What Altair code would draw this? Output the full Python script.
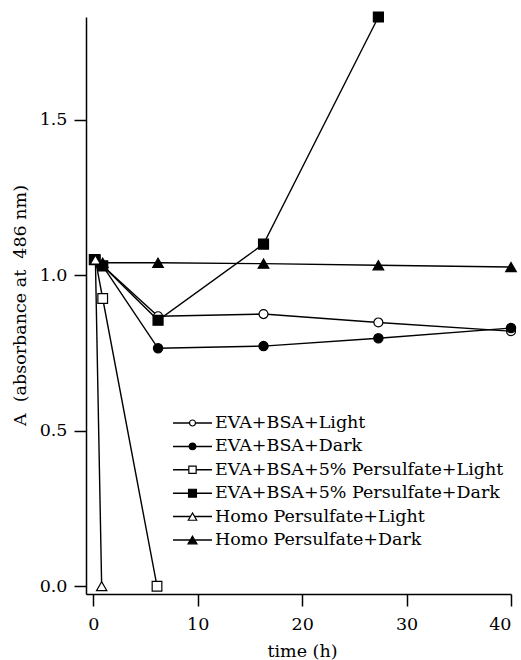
import altair as alt
import pandas as pd

# Series names, in legend order
series = [
    "EVA+BSA+Light",
    "EVA+BSA+Dark",
    "EVA+BSA+5% Persulfate+Light",
    "EVA+BSA+5% Persulfate+Dark",
    "Homo Persulfate+Light",
    "Homo Persulfate+Dark",
]

# Time (h) and absorbance at 486 nm for each series
t_eva_light = [0.9, 6.2, 16.3, 27.3, 40.0]
a_eva_light = [1.03, 0.868, 0.875, 0.848, 0.82]

t_eva_dark = [0.9, 6.2, 16.3, 27.3, 40.0]
a_eva_dark = [1.03, 0.765, 0.772, 0.797, 0.83]

t_ps_light = [0.2, 0.9, 6.1]
a_ps_light = [1.05, 0.925, 0.0]

t_ps_dark = [0.1, 0.9, 6.2, 16.3, 27.3]
a_ps_dark = [1.05, 1.03, 0.855, 1.10, 1.83]

t_homo_light = [0.2, 0.8]
a_homo_light = [1.05, 0.0]

t_homo_dark = [0.9, 6.2, 16.3, 27.3, 40.0]
a_homo_dark = [1.04, 1.04, 1.037, 1.032, 1.026]

times = [t_eva_light, t_eva_dark, t_ps_light, t_ps_dark, t_homo_light, t_homo_dark]
values = [a_eva_light, a_eva_dark, a_ps_light, a_ps_dark, a_homo_light, a_homo_dark]

rows = []
for name, ts, vs in zip(series, times, values):
    for t, v in zip(ts, vs):
        rows.append({"series": name, "t": t, "A": v})
df = pd.DataFrame(rows)
legend_df = pd.DataFrame({"series": series})

# Marker styling per series
shapes = ["circle", "circle", "square", "square", "triangle-up", "triangle-up"]
fills = ["white", "black", "white", "black", "white", "black"]
sizes = [80, 113, 121, 144, 125, 125]
legend_sizes = [36, 80, 72, 100, 90, 100]

FONT = "DejaVu Serif"
FS = 17.5

shape_enc = alt.Shape("series:N", scale=alt.Scale(domain=series, range=shapes), legend=None)
fill_enc = alt.Color("series:N", scale=alt.Scale(domain=series, range=fills), legend=None)

x_enc = alt.X(
    "t:Q",
    scale=alt.Scale(domain=[-0.7, 40], nice=False, zero=False),
    axis=alt.Axis(
        title="time (h)",
        values=[0, 10, 20, 30, 40],
        labelPadding=9,
        titleX=216,
        titleY=57,
        titleBaseline="middle",
    ),
)
y_scale = alt.Scale(domain=[-0.025, 1.83], nice=False, zero=False)
y_axis_enc = alt.Y(
    "A:Q",
    scale=y_scale,
    axis=alt.Axis(
        title="A\u00a0 (absorbance at\u00a0 486 nm)",
        values=[0, 0.5, 1.0, 1.5],
        format=".1f",
        labelPadding=7,
        titleX=-66,
        titleY=288,
        titleBaseline="middle",
    ),
)
y_plain_enc = alt.Y("A:Q", scale=y_scale, axis=None)

lines = alt.Chart(df).mark_line(color="black", strokeWidth=1.4).encode(
    x=x_enc, y=y_axis_enc, detail="series:N"
)

points = alt.Chart(df).mark_point(
    filled=True, stroke="black", strokeWidth=1.2, opacity=1
).encode(
    x=x_enc,
    y=y_plain_enc,
    shape=shape_enc,
    color=fill_enc,
    size=alt.Size("series:O", scale=alt.Scale(domain=series, range=sizes), legend=None),
)

# Legend drawn inside the plot: one row per series
legend_y = alt.Y(
    "series:N",
    scale=alt.Scale(type="point", domain=series, range=[406, 523], padding=0),
    axis=None,
)

legend_rule = alt.Chart(legend_df).mark_rule(color="black", strokeWidth=1.5).encode(
    x=alt.value(87), x2=alt.value(126), y=legend_y
)

legend_pts = alt.Chart(legend_df).mark_point(
    filled=True, stroke="black", strokeWidth=1.2, opacity=1
).encode(
    x=alt.value(106.5),
    y=legend_y,
    shape=shape_enc,
    color=fill_enc,
    size=alt.Size("series:O", scale=alt.Scale(domain=series, range=legend_sizes), legend=None),
)

legend_txt = alt.Chart(legend_df).mark_text(
    align="left", baseline="middle", font=FONT, fontSize=FS, color="black"
).encode(x=alt.value(129), y=legend_y, text="series:N")

chart = (
    alt.layer(lines, points, legend_rule, legend_pts, legend_txt)
    .resolve_scale(y="independent", size="independent")
    .properties(
        width=425,
        height=577,
        autosize=alt.AutoSizeParams(type="none"),
        padding={"left": 86, "top": 17, "right": 10, "bottom": 66},
        background="white",
    )
    .configure_view(stroke=None)
    .configure_axis(
        grid=False,
        domainColor="black",
        domainWidth=1.5,
        tickColor="black",
        tickWidth=1.5,
        tickSize=12,
        labelFont=FONT,
        labelFontSize=FS,
        labelColor="black",
        titleFont=FONT,
        titleFontSize=FS,
        titleFontWeight="normal",
        titleColor="black",
    )
)

chart.save("out.html", embed_options={"renderer": "svg", "actions": False})
